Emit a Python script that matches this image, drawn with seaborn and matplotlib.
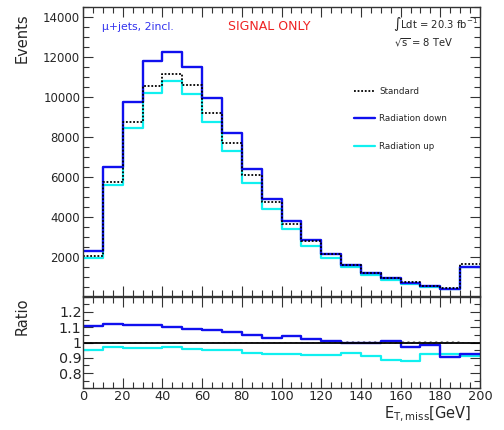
import numpy as np
import pandas as pd
import seaborn as sns
import matplotlib
matplotlib.use("Agg")
import matplotlib.pyplot as plt
from matplotlib.lines import Line2D
from matplotlib.ticker import MultipleLocator, FixedLocator

# ---- data ----
bin_edges = [0, 10, 20, 30, 40, 50, 60, 70, 80, 90, 100, 110, 120, 130, 140, 150, 160, 170, 180, 190, 200]
standard = [2050, 5760, 8740, 10560, 11150, 10570, 9210, 7670, 6080, 4760, 3640, 2770, 2120, 1590,
            1200, 940, 720, 545, 442, 1620]
rad_down = [2270, 6470, 9750, 11785, 12250, 11500, 9950, 8200, 6370, 4900, 3800, 2835, 2135, 1585,
            1200, 950, 700, 535, 400, 1500]
rad_up = [1950, 5600, 8415, 10170, 10790, 10140, 8735, 7270, 5675, 4400, 3365, 2550, 1940, 1480,
          1090, 830, 635, 503, 409, 1475]
stat_unc = [0.005, 0.005, 0.004, 0.004, 0.004, 0.004, 0.004, 0.005, 0.005, 0.005, 0.005, 0.006,
            0.006, 0.007, 0.008, 0.009, 0.010, 0.011, 0.011, 0.006]
series_names = ["Standard", "Radiation down", "Radiation up"]
y_ticks_main = [2000, 4000, 6000, 8000, 10000, 12000, 14000]
y_ticks_ratio = [0.8, 0.9, 1.0, 1.1, 1.2]
y_ticklabels_ratio = ["0.8", "0.9", "1", "1.1", "1.2"]
x_ticks = list(range(0, 201, 20))

sns.set_theme(style="ticks")
plt.rcParams["font.family"] = ["DejaVu Sans"]
plt.rcParams["mathtext.fontset"] = "dejavusans"

edges = np.array(bin_edges, dtype=float)
std = np.array(standard, dtype=float)
dn = np.array(rad_down, dtype=float)
up = np.array(rad_up, dtype=float)


def step_frame(vals, name):
    v = np.asarray(vals, dtype=float)
    return pd.DataFrame({"x": edges, "y": np.append(v, v[-1]), "s": name})


fig = plt.figure(figsize=(5.04, 4.30), dpi=100)
L, R = 83 / 504, 480 / 504
ax = fig.add_axes([L, 1 - 295.7 / 430, R - L, (295.7 - 6.7) / 430])
axr = fig.add_axes([L, 1 - 388.3 / 430, R - L, (388.3 - 296.7) / 430])

styles = {
    "Standard": dict(color="black", linestyle=(0, (1, 1)), linewidth=1.3),
    "Radiation down": dict(color="#1010ee", linestyle="-", linewidth=1.7),
    "Radiation up": dict(color="#10f0f0", linestyle="-", linewidth=1.6),
}
main_data = {"Standard": std, "Radiation down": dn, "Radiation up": up}
for name in ["Radiation up", "Radiation down", "Standard"]:
    d = step_frame(main_data[name], name)
    sns.lineplot(data=d, x="x", y="y", drawstyle="steps-post", ax=ax, legend=False,
                 **styles[name])

ax.set_xlim(0, 200)
ax.set_ylim(50, 14500)
ax.yaxis.set_major_locator(FixedLocator(y_ticks_main))
ax.yaxis.set_minor_locator(MultipleLocator(500))
ax.xaxis.set_major_locator(FixedLocator(x_ticks))
ax.xaxis.set_minor_locator(MultipleLocator(5))
ax.set_xticklabels([])
ax.set_xlabel("")
ax.set_ylabel("")
ax.tick_params(axis="y", labelsize=8.5, pad=2)

# ratio panel
r_dn = dn / std
r_up = up / std
unc = np.array(stat_unc)
axr.fill_between(edges, np.append(1 - unc, 1 - unc[-1]), np.append(1 + unc, 1 + unc[-1]),
                 step="post", facecolor="none", edgecolor="#999999", hatch="//////", linewidth=0)
ratio_data = {"Radiation up": r_up, "Radiation down": r_dn}
for name in ["Radiation up", "Radiation down"]:
    d = step_frame(ratio_data[name], name)
    sns.lineplot(data=d, x="x", y="y", drawstyle="steps-post", ax=axr, legend=False,
                 **styles[name])
axr.axhline(1.0, color="black", linewidth=1.3)
axr.set_xlim(0, 200)
axr.set_ylim(0.7, 1.3)
axr.yaxis.set_major_locator(FixedLocator(y_ticks_ratio))
axr.set_yticklabels(y_ticklabels_ratio)
axr.yaxis.set_minor_locator(MultipleLocator(0.05))
axr.xaxis.set_major_locator(FixedLocator(x_ticks))
axr.xaxis.set_minor_locator(MultipleLocator(5))
axr.set_xticklabels([str(t) for t in x_ticks])
axr.set_xlabel("")
axr.set_ylabel("")
axr.tick_params(axis="y", labelsize=10.3, pad=1)
axr.tick_params(axis="x", labelsize=9.3, pad=1.5)

for a in (ax, axr):
    a.tick_params(which="both", direction="in", top=True, right=True, color="#333333")
    a.tick_params(which="major", length=7, width=0.8)
    a.tick_params(which="minor", length=4, width=0.8)
    for sp in a.spines.values():
        sp.set_color("#333333")
        sp.set_linewidth(1.0)

# labels
fig.text(22 / 504, 1 - 13 / 430, "Events", rotation=90, ha="center", va="top", fontsize=10.5)
fig.text(22 / 504, 1 - 316 / 430, "Ratio", rotation=90, ha="center", va="center", fontsize=10.5)
fig.text(471 / 504, 1 - 405 / 430, r"E$_{\mathregular{T,miss}}$[GeV]", ha="right", va="top",
         fontsize=10.5)

fig.text(102 / 504, 1 - 27 / 430, "μ+jets, 2incl.", color="#3333ee", fontsize=7.8, va="center")
fig.text(228 / 504, 1 - 26.5 / 430, "SIGNAL ONLY", color="#ee2222", fontsize=9, va="center")
fig.text(393 / 504, 1 - 24 / 430, r"$\int$Ldt = 20.3 fb$^{-1}$", fontsize=7.2, va="center")
fig.text(394 / 504, 1 - 43 / 430, r"$\sqrt{\mathregular{s}}$ = 8 TeV", fontsize=7.2, va="center")

handles = [Line2D([], [], **styles[n]) for n in series_names]
fs_leg = 6.3
leg = ax.legend(handles, series_names, loc="upper left", frameon=False, fontsize=fs_leg,
                handlelength=2.4, labelspacing=2.1, handletextpad=0.5, borderpad=0,
                borderaxespad=0)
leg.set_bbox_to_anchor((354 / 504, 1 - 87 / 430), transform=fig.transFigure)

fig.savefig("out.png", dpi=100)
